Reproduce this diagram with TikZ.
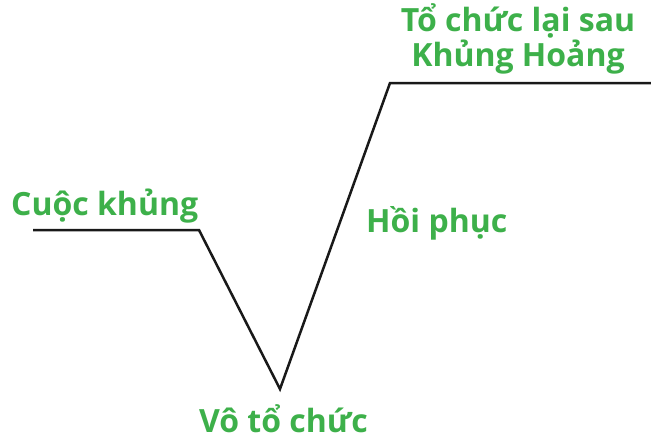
\documentclass[tikz,border=0pt]{standalone}
\usepackage{fontspec}
\setmainfont{Open Sans}
\definecolor{labelgreen}{RGB}{61,176,74}
\tikzset{lbl/.style={text=labelgreen, font=\fontsize{32}{28}\selectfont\bfseries, inner sep=0pt}}
\begin{document}
\begin{tikzpicture}[x=1pt,y=-1pt]
\useasboundingbox (0,0) rectangle (651,440);
\coordinate (p0) at (33,230);
\coordinate (p1) at (199,230);
\coordinate (p2) at (280,389);
\coordinate (p3) at (390,83);
\coordinate (p4) at (651,83);
\draw[line width=2.5pt, color=black!90] (p0) -- (p1) -- (p2) -- (p3) -- (p4);
\node[lbl, anchor=base west] (crisis) at (11,215){Cuộc khủng};
\node[lbl, anchor=base west] (chaos) at (199,432){Vô tổ chức};
\node[lbl, anchor=base west] (recover) at (366,232){Hồi phục};
\node[lbl, anchor=base, align=center] (reorg) at (518,66){Tổ chức lại sau\\Khủng Hoảng};
\end{tikzpicture}
\end{document}
